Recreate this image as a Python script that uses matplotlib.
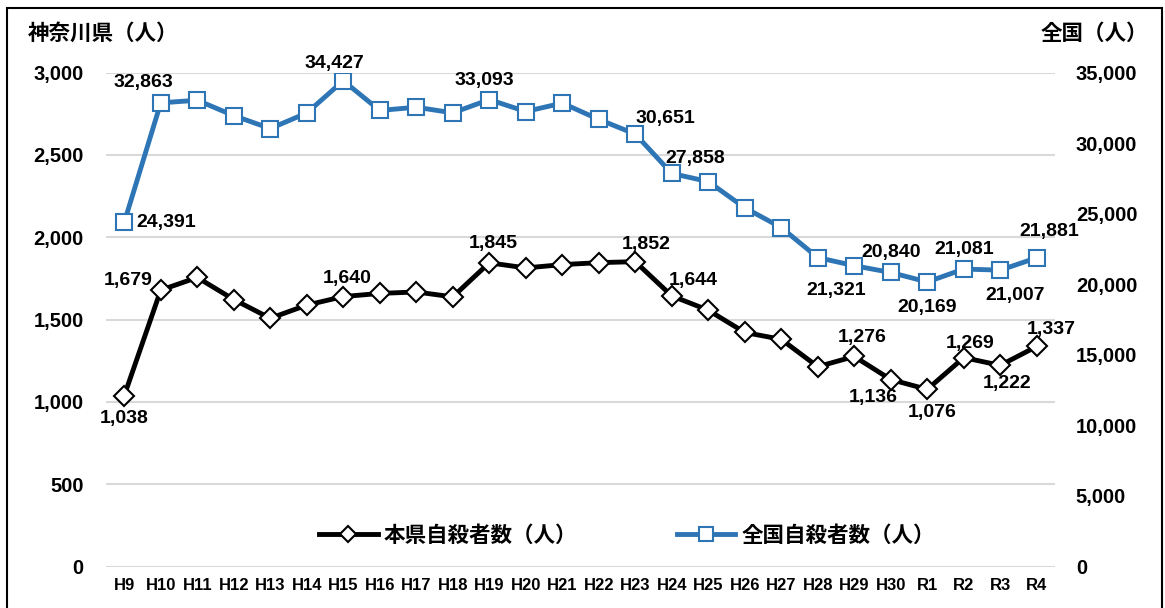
import matplotlib
matplotlib.use('Agg')
import matplotlib.pyplot as plt
from matplotlib.lines import Line2D
from matplotlib.patches import Rectangle
from matplotlib.ticker import FuncFormatter

# データ
nendo = ['H9', 'H10', 'H11', 'H12', 'H13', 'H14', 'H15', 'H16', 'H17', 'H18',
         'H19', 'H20', 'H21', 'H22', 'H23', 'H24', 'H25', 'H26', 'H27', 'H28',
         'H29', 'H30', 'R1', 'R2', 'R3', 'R4']
kanagawa = [1038, 1679, 1756, 1622, 1508, 1588, 1640, 1659, 1668, 1638,
            1845, 1814, 1834, 1846, 1852, 1644, 1557, 1422, 1380, 1214,
            1276, 1136, 1076, 1269, 1222, 1337]
zenkoku = [24391, 32863, 33048, 31957, 31042, 32143, 34427, 32325, 32552, 32155,
           33093, 32249, 32845, 31690, 30651, 27858, 27283, 25427, 24025, 21897,
           21321, 20840, 20169, 21081, 21007, 21881]

# ラベル位置 (index: dx, dy, ha) ピクセル
lab_ken = {0: (0, -23, 'center'), 1: (-33, 10, 'center'), 6: (4, 18, 'center'),
           10: (4, 19, 'center'), 14: (11, 17, 'center'), 15: (22, 15, 'center'),
           20: (8, 19, 'center'), 21: (-18, -18, 'center'), 22: (5, -23, 'center'),
           23: (6, 14, 'center'), 24: (7, -18, 'center'), 25: (15, 17, 'center')}
lab_zen = {0: (12, 0, 'left'), 1: (-17, 20, 'center'), 6: (-9, 17, 'center'),
           10: (-5, 19, 'center'), 14: (30, 16, 'center'), 15: (24, 15, 'center'),
           20: (-18, -25, 'center'), 21: (0, 20, 'center'), 22: (0, -26, 'center'),
           23: (0, 20, 'center'), 24: (15, -25, 'center'), 25: (12, 26, 'center')}

NUMFONT = ['Liberation Sans', 'DejaVu Sans']
JPFONT = ['Noto Sans CJK JP', 'DejaVu Sans']
BLUE = '#2E75B6'

fig = plt.figure(figsize=(11.65, 6.08), dpi=100)
ax = fig.add_axes([106 / 1165, 1 - 566.5 / 608, 949 / 1165, (566.5 - 72.7) / 608])
ax2 = ax.twinx()

x = list(range(len(nendo)))
ax.plot(x, kanagawa, color='black', lw=3.5, marker='D', markersize=10,
        markerfacecolor='white', markeredgecolor='black', markeredgewidth=1.5, zorder=3)
ax2.plot(x, zenkoku, color=BLUE, lw=3.5, marker='s', markersize=12,
         markerfacecolor='white', markeredgecolor=BLUE, markeredgewidth=1.5, zorder=3)

ax.set_xlim(-0.5, len(nendo) - 0.5)
ax.set_ylim(0, 3000)
ax2.set_ylim(0, 35000)
ax.set_yticks(range(0, 3001, 500))
ax2.set_yticks(range(0, 35001, 5000))
fmt = FuncFormatter(lambda v, p: '{:,}'.format(int(v)))
ax.yaxis.set_major_formatter(fmt)
ax2.yaxis.set_major_formatter(fmt)
ax.set_xticks(x)
ax.set_xticklabels(nendo)

ax.grid(axis='y', color='#d9d9d9', lw=1.5)
ax.set_axisbelow(True)
for a in (ax, ax2):
    for s in a.spines.values():
        s.set_visible(False)
    a.tick_params(length=0)
ax.tick_params(axis='x', pad=8)
ax.tick_params(axis='y', pad=16)
ax2.tick_params(axis='y', pad=15)
for t in ax.get_xticklabels():
    t.set_fontfamily(NUMFONT)
    t.set_fontweight('bold')
    t.set_fontsize(12)
for t in ax.get_yticklabels() + ax2.get_yticklabels():
    t.set_fontfamily(NUMFONT)
    t.set_fontweight('bold')
    t.set_fontsize(14.5)

# データラベル
for i, (dx, dy, ha) in lab_ken.items():
    ax.annotate('{:,}'.format(kanagawa[i]), (i, kanagawa[i]), xytext=(dx, dy),
                textcoords='offset pixels', ha=ha, va='center',
                fontsize=14, fontweight='bold', family=NUMFONT, zorder=5)
for i, (dx, dy, ha) in lab_zen.items():
    ax2.annotate('{:,}'.format(zenkoku[i]), (i, zenkoku[i]), xytext=(dx, dy),
                 textcoords='offset pixels', ha=ha, va='center',
                 fontsize=14, fontweight='bold', family=NUMFONT, zorder=5)

# 軸タイトル
fig.text(28 / 1165, 1 - 33 / 608, '神奈川県（人）', ha='left', va='center',
         fontsize=15.5, fontweight='bold', family=JPFONT)
fig.text(1148 / 1165, 1 - 33 / 608, '全国（人）', ha='right', va='center',
         fontsize=15.5, fontweight='bold', family=JPFONT)

# 凡例
h1 = Line2D([], [], color='black', lw=3.5, marker='D', markersize=8,
            markerfacecolor='white', markeredgecolor='black', markeredgewidth=1.5)
h2 = Line2D([], [], color=BLUE, lw=3.5, marker='s', markersize=10,
            markerfacecolor='white', markeredgecolor=BLUE, markeredgewidth=1.5)
leg = ax.legend([h1, h2], ['本県自殺者数（人）', '全国自殺者数（人）'], ncol=2,
                loc='center', bbox_to_anchor=(627 / 1165, 1 - 535 / 608),
                bbox_transform=fig.transFigure, frameon=False,
                handlelength=2.7, handletextpad=0.3, columnspacing=4.6,
                prop={'family': JPFONT, 'weight': 'bold', 'size': 15.5})

# 外枠
fig.patches.append(Rectangle((7 / 1165, -0.01), 1155 / 1165, 1.0 - 8 / 608 + 0.01,
                             transform=fig.transFigure, fill=False,
                             edgecolor='black', lw=1.5))

fig.savefig('out.png', dpi=100)
